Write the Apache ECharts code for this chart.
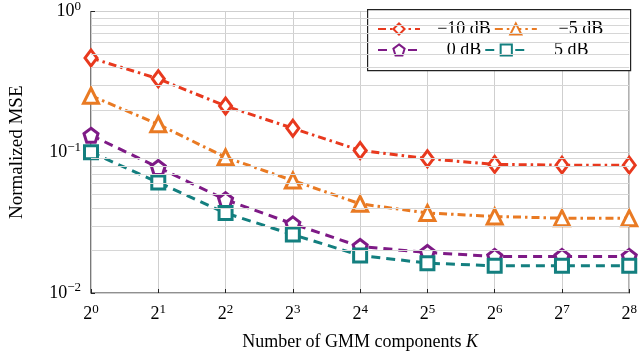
<!DOCTYPE html>
<html>
<head>
<meta charset="utf-8">
<script src="https://cdn.jsdelivr.net/npm/echarts@6/dist/echarts.min.js"></script>
<style>
  html, body { margin: 0; padding: 0; background: #fff; }
  #chart { width: 640px; height: 357px; }
</style>
</head>
<body>
<div id="chart"></div>
<script>
// data
var components = [1, 2, 4, 8, 16, 32, 64, 128, 256];
var mseM10 = [0.467, 0.333, 0.213, 0.148, 0.103, 0.090, 0.082, 0.081, 0.081];
var mseM5 = [0.252, 0.158, 0.092, 0.063, 0.043, 0.037, 0.035, 0.034, 0.034];
var mse0 = [0.132, 0.078, 0.046, 0.031, 0.0214, 0.0194, 0.0182, 0.0182, 0.0182];
var mse5 = [0.100, 0.061, 0.037, 0.026, 0.0185, 0.0163, 0.0156, 0.0156, 0.0156];
var seriesNames = ['\u221210 dB', '\u22125 dB', '0 dB', '5 dB'];
var xTickExps = ['0', '1', '2', '3', '4', '5', '6', '7', '8'];
var yTickExps = { '-2': '\u22122', '-1': '\u22121', '0': '0' };
var minorLines = [0.02, 0.03, 0.04, 0.05, 0.06, 0.07, 0.08, 0.09,
                  0.2, 0.3, 0.4, 0.5, 0.6, 0.7, 0.8, 0.9];

var font = 'Liberation Serif';

function pairs(vals) {
  return components.map(function (k, i) { return [k, vals[i]]; });
}

var pentagon = 'path://M0,-1 L0.951,-0.309 L0.588,0.809 L-0.588,0.809 L-0.951,-0.309 Z';

// legend labels are centred in a fixed-width cell, like the tikz legend
var legendCell = 78;
var measure = document.createElement('canvas').getContext('2d');
measure.font = '18px "' + font + '"';
var legendRich = {};
seriesNames.forEach(function (n, i) {
  var w = measure.measureText(n).width;
  var pad = Math.max(0, (legendCell - w) / 2);
  legendRich['n' + i] = { fontFamily: font, fontSize: 18, color: '#000', padding: [0, 0, 0, pad] };
});

var myChart = echarts.init(document.getElementById('chart'));

var supRich = {
  b: { fontFamily: font, fontSize: 18, color: '#000' },
  s: { fontFamily: font, fontSize: 13, color: '#000', padding: [0, 0, 10, 0] }
};

function makeSeries(name, vals, color, dash, symbol, size) {
  return {
    name: name,
    type: 'line',
    data: pairs(vals),
    z: 3,
    symbol: symbol,
    symbolSize: size,
    showAllSymbol: true,
    lineStyle: { color: color, width: 3, type: dash },
    itemStyle: { color: '#fff', borderColor: color, borderWidth: 3 }
  };
}

var option = {
  animation: false,
  grid: {
    left: 88, right: 9, top: 9, bottom: 64,
    show: true, borderColor: '#222', borderWidth: 1.2
  },
  // legend frame drawn separately, the legend's own border came out too narrow
  graphic: [{
    type: 'rect',
    left: 367, top: 9,
    z: 3,
    silent: true,
    shape: { width: 263, height: 61 },
    style: { fill: '#fff', stroke: '#222', lineWidth: 1.2 }
  }],
  legend: {
    left: 367, top: 9,
    width: 256,
    padding: [11, 0, 7, 10],
    itemGap: 3,
    itemWidth: 42, itemHeight: 14,
    z: 5,
    data: seriesNames,
    formatter: function (n) { return '{n' + seriesNames.indexOf(n) + '|' + n + '}'; },
    textStyle: { width: legendCell, overflow: 'none', rich: legendRich }
  },
  xAxis: {
    type: 'log', logBase: 2, min: 1, max: 256, interval: 1,
    name: 'Number of GMM components {i|K}',
    nameLocation: 'middle', nameGap: 40,
    nameTextStyle: {
      fontFamily: font, fontSize: 18, color: '#000',
      rich: { i: { fontFamily: font, fontStyle: 'italic', fontSize: 18, color: '#000' } }
    },
    axisLine: { show: false },
    axisTick: { show: true, inside: true, length: 4, lineStyle: { color: '#222' } },
    axisLabel: {
      margin: 10,
      formatter: function (v) {
        return '{b|2}{s|' + xTickExps[Math.round(Math.log2(v))] + '}';
      },
      rich: supRich
    },
    splitLine: { show: true, lineStyle: { color: '#cfcfcf', width: 1 } }
  },
  yAxis: {
    type: 'log', logBase: 10, min: 0.01, max: 1, interval: 1,
    name: 'Normalized MSE',
    nameLocation: 'middle', nameGap: 64,
    nameTextStyle: { fontFamily: font, fontSize: 19, color: '#000' },
    axisLine: { show: false },
    axisTick: { show: true, inside: true, length: 4, lineStyle: { color: '#222' } },
    axisLabel: {
      margin: 10,
      formatter: function (v) {
        return '{b|10}{s|' + yTickExps[String(Math.round(Math.log10(v)))] + '}';
      },
      rich: supRich
    },
    splitLine: { show: true, lineStyle: { color: '#cfcfcf', width: 1 } }
  },
  series: [
    {
      name: 'grid',
      type: 'line',
      data: [],
      z: 1,
      silent: true,
      markLine: {
        silent: true,
        symbol: 'none',
        label: { show: false },
        animation: false,
        lineStyle: { color: '#d6d6d6', width: 1, type: 'solid' },
        data: minorLines.map(function (v) { return { yAxis: v }; })
      }
    },
    makeSeries(seriesNames[0], mseM10, '#e8391e', [8, 4, 2.5, 4], 'diamond', [12, 16]),
    makeSeries(seriesNames[1], mseM5, '#e97a23', [8, 4, 2.5, 4], 'triangle', 15),
    makeSeries(seriesNames[2], mse0, '#7e1a86', [9, 6], pentagon, 14),
    makeSeries(seriesNames[3], mse5, '#137f7f', [9, 6], 'rect', 13)
  ]
};

myChart.setOption(option);
</script>
</body>
</html>
